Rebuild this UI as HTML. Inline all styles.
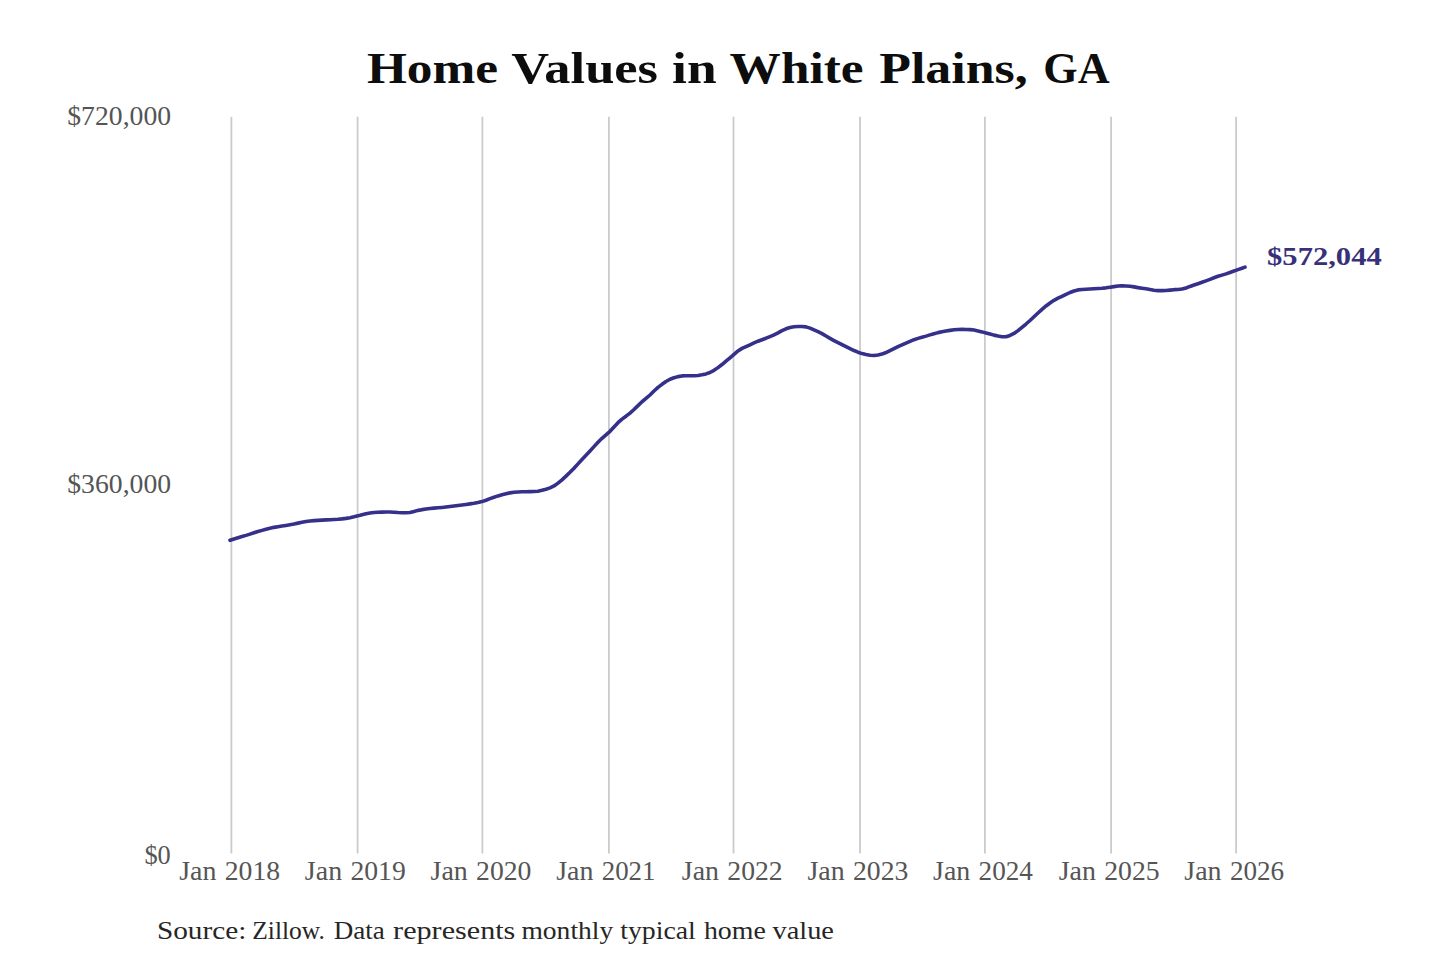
<!DOCTYPE html>
<html><head><meta charset="utf-8"><style>
html,body{margin:0;padding:0;background:#fff;width:1440px;height:960px;overflow:hidden}
svg{display:block}
text{font-family:"Liberation Serif",serif}
</style></head><body>
<svg width="1440" height="960" viewBox="0 0 1440 960">
<rect width="1440" height="960" fill="#fff"/>
<g stroke="#cbcbcb" stroke-width="1.8"><line x1="231.4" y1="116.7" x2="231.4" y2="853.5"/><line x1="357.6" y1="116.7" x2="357.6" y2="853.5"/><line x1="482.4" y1="116.7" x2="482.4" y2="853.5"/><line x1="608.9" y1="116.7" x2="608.9" y2="853.5"/><line x1="733.5" y1="116.7" x2="733.5" y2="853.5"/><line x1="860.05" y1="116.7" x2="860.05" y2="853.5"/><line x1="984.9" y1="116.7" x2="984.9" y2="853.5"/><line x1="1111.1" y1="116.7" x2="1111.1" y2="853.5"/><line x1="1236.1" y1="116.7" x2="1236.1" y2="853.5"/></g>
<path d="M230.0 540.30 L234.0 539.01 L238.0 537.76 L242.0 536.56 L246.0 535.38 L250.0 534.10 L254.0 532.75 L258.0 531.49 L262.0 530.36 L266.0 529.30 L270.0 528.27 L274.0 527.36 L278.0 526.66 L282.0 526.06 L286.0 525.41 L290.0 524.71 L294.0 523.97 L298.0 523.12 L302.0 522.23 L306.0 521.47 L310.0 520.98 L314.0 520.62 L318.0 520.34 L322.0 520.09 L326.0 519.88 L330.0 519.70 L334.0 519.49 L338.0 519.22 L342.0 518.86 L346.0 518.38 L350.0 517.71 L354.0 516.85 L358.0 515.87 L362.0 514.72 L366.0 513.69 L370.0 512.97 L374.0 512.49 L378.0 512.26 L382.0 512.12 L386.0 512.03 L390.0 512.03 L394.0 512.22 L398.0 512.50 L402.0 512.68 L406.0 512.70 L410.0 512.57 L414.0 511.52 L418.0 510.37 L422.0 509.65 L426.0 509.07 L430.0 508.57 L434.0 508.15 L438.0 507.80 L442.0 507.44 L446.0 507.01 L450.0 506.51 L454.0 505.97 L458.0 505.44 L462.0 504.94 L466.0 504.45 L470.0 503.90 L474.0 503.28 L478.0 502.56 L482.0 501.61 L486.0 500.23 L490.0 498.63 L494.0 497.20 L498.0 495.90 L502.0 494.74 L506.0 493.74 L510.0 492.85 L514.0 492.26 L518.0 491.99 L522.0 491.82 L526.0 491.69 L530.0 491.60 L534.0 491.50 L538.0 491.20 L542.0 490.32 L546.0 489.17 L550.0 487.88 L554.0 485.99 L558.0 483.15 L562.0 479.84 L566.0 476.15 L570.0 472.27 L574.0 468.19 L578.0 463.85 L582.0 459.49 L586.0 455.32 L590.0 451.06 L594.0 446.61 L598.0 442.34 L602.0 438.35 L606.0 434.79 L610.0 431.28 L614.0 426.94 L618.0 422.70 L622.0 419.11 L626.0 416.19 L630.0 413.11 L634.0 409.51 L638.0 405.62 L642.0 401.76 L646.0 398.46 L650.0 394.99 L654.0 390.98 L658.0 387.39 L662.0 384.30 L666.0 381.50 L670.0 379.29 L674.0 377.78 L678.0 376.64 L682.0 375.91 L686.0 375.80 L690.0 375.79 L694.0 375.72 L698.0 375.43 L702.0 374.82 L706.0 373.88 L710.0 372.49 L714.0 370.34 L718.0 367.63 L722.0 364.53 L726.0 361.19 L730.0 357.80 L734.0 354.37 L738.0 350.93 L742.0 348.38 L746.0 346.59 L750.0 344.79 L754.0 342.91 L758.0 341.20 L762.0 339.71 L766.0 338.20 L770.0 336.58 L774.0 334.86 L778.0 332.85 L782.0 330.60 L786.0 328.80 L790.0 327.49 L794.0 326.80 L798.0 326.50 L802.0 326.46 L806.0 326.86 L810.0 328.16 L814.0 329.93 L818.0 331.62 L822.0 333.60 L826.0 336.02 L830.0 338.39 L834.0 340.54 L838.0 342.61 L842.0 344.66 L846.0 346.67 L850.0 348.63 L854.0 350.53 L858.0 352.19 L862.0 353.58 L866.0 354.59 L870.0 355.30 L874.0 355.52 L878.0 355.02 L882.0 354.07 L886.0 352.53 L890.0 350.60 L894.0 348.58 L898.0 346.57 L902.0 344.78 L906.0 343.09 L910.0 341.35 L914.0 339.70 L918.0 338.36 L922.0 337.24 L926.0 336.12 L930.0 334.89 L934.0 333.67 L938.0 332.62 L942.0 331.73 L946.0 330.97 L950.0 330.35 L954.0 329.80 L958.0 329.46 L962.0 329.42 L966.0 329.48 L970.0 329.60 L974.0 330.05 L978.0 330.90 L982.0 331.88 L986.0 332.97 L990.0 334.06 L994.0 335.12 L998.0 336.03 L1002.0 336.76 L1006.0 336.71 L1010.0 335.42 L1014.0 333.43 L1018.0 330.63 L1022.0 327.39 L1026.0 324.03 L1030.0 320.47 L1034.0 316.73 L1038.0 312.96 L1042.0 309.34 L1046.0 305.95 L1050.0 302.96 L1054.0 300.33 L1058.0 298.17 L1062.0 296.35 L1066.0 294.47 L1070.0 292.50 L1074.0 290.95 L1078.0 289.89 L1082.0 289.48 L1086.0 289.26 L1090.0 289.00 L1094.0 288.71 L1098.0 288.46 L1102.0 288.23 L1106.0 287.84 L1110.0 287.24 L1114.0 286.61 L1118.0 286.02 L1122.0 285.83 L1126.0 285.95 L1130.0 286.24 L1134.0 286.89 L1138.0 287.62 L1142.0 288.24 L1146.0 288.84 L1150.0 289.54 L1154.0 290.30 L1158.0 290.59 L1162.0 290.60 L1166.0 290.53 L1170.0 290.11 L1174.0 289.67 L1178.0 289.45 L1182.0 289.08 L1186.0 287.95 L1190.0 286.43 L1194.0 285.06 L1198.0 283.70 L1202.0 282.30 L1206.0 280.85 L1210.0 279.32 L1214.0 277.72 L1218.0 276.30 L1222.0 275.10 L1226.0 273.85 L1230.0 272.44 L1234.0 271.00 L1238.0 269.59 L1242.0 268.20 L1245.0 267.17" fill="none" stroke="#35308a" stroke-width="3.6" stroke-linecap="round" stroke-linejoin="round"/>
<text x="366.93" y="82.8" font-size="44" font-weight="bold" fill="#0d0d0d" textLength="131.21" lengthAdjust="spacingAndGlyphs">Home</text>
<text x="511.31" y="82.8" font-size="44" font-weight="bold" fill="#0d0d0d" textLength="146.70" lengthAdjust="spacingAndGlyphs">Values</text>
<text x="672.09" y="82.8" font-size="44" font-weight="bold" fill="#0d0d0d" textLength="44.57" lengthAdjust="spacingAndGlyphs">in</text>
<text x="729.63" y="82.8" font-size="44" font-weight="bold" fill="#0d0d0d" textLength="133.90" lengthAdjust="spacingAndGlyphs">White</text>
<text x="879.22" y="82.8" font-size="44" font-weight="bold" fill="#0d0d0d" textLength="148.44" lengthAdjust="spacingAndGlyphs">Plains,</text>
<text x="1043.29" y="82.8" font-size="44" font-weight="bold" fill="#0d0d0d" textLength="66.31" lengthAdjust="spacingAndGlyphs">GA</text>
<text x="67.27" y="124.6" font-size="26.8" fill="#555555" textLength="103.88" lengthAdjust="spacingAndGlyphs">$720,000</text>
<text x="67.27" y="492.5" font-size="26.8" fill="#555555" textLength="103.88" lengthAdjust="spacingAndGlyphs">$360,000</text>
<text x="144.42" y="863.75" font-size="26.8" fill="#555555" textLength="26.37" lengthAdjust="spacingAndGlyphs">$0</text>
<text x="179.25" y="879.8" font-size="26.6" fill="#555555" textLength="37.23" lengthAdjust="spacingAndGlyphs">Jan</text>
<text x="224.76" y="879.8" font-size="26.6" fill="#555555" textLength="55.38" lengthAdjust="spacingAndGlyphs">2018</text>
<text x="304.89" y="879.8" font-size="26.6" fill="#555555" textLength="37.23" lengthAdjust="spacingAndGlyphs">Jan</text>
<text x="350.40" y="879.8" font-size="26.6" fill="#555555" textLength="55.38" lengthAdjust="spacingAndGlyphs">2019</text>
<text x="430.53" y="879.8" font-size="26.6" fill="#555555" textLength="37.23" lengthAdjust="spacingAndGlyphs">Jan</text>
<text x="476.04" y="879.8" font-size="26.6" fill="#555555" textLength="55.38" lengthAdjust="spacingAndGlyphs">2020</text>
<text x="556.17" y="879.8" font-size="26.6" fill="#555555" textLength="37.23" lengthAdjust="spacingAndGlyphs">Jan</text>
<text x="601.71" y="879.8" font-size="26.6" fill="#555555" textLength="53.76" lengthAdjust="spacingAndGlyphs">2021</text>
<text x="681.81" y="879.8" font-size="26.6" fill="#555555" textLength="37.23" lengthAdjust="spacingAndGlyphs">Jan</text>
<text x="727.32" y="879.8" font-size="26.6" fill="#555555" textLength="55.38" lengthAdjust="spacingAndGlyphs">2022</text>
<text x="807.45" y="879.8" font-size="26.6" fill="#555555" textLength="37.23" lengthAdjust="spacingAndGlyphs">Jan</text>
<text x="852.96" y="879.8" font-size="26.6" fill="#555555" textLength="55.38" lengthAdjust="spacingAndGlyphs">2023</text>
<text x="933.09" y="879.8" font-size="26.6" fill="#555555" textLength="37.23" lengthAdjust="spacingAndGlyphs">Jan</text>
<text x="978.62" y="879.8" font-size="26.6" fill="#555555" textLength="54.31" lengthAdjust="spacingAndGlyphs">2024</text>
<text x="1058.73" y="879.8" font-size="26.6" fill="#555555" textLength="37.23" lengthAdjust="spacingAndGlyphs">Jan</text>
<text x="1104.24" y="879.8" font-size="26.6" fill="#555555" textLength="55.38" lengthAdjust="spacingAndGlyphs">2025</text>
<text x="1184.37" y="879.8" font-size="26.6" fill="#555555" textLength="37.23" lengthAdjust="spacingAndGlyphs">Jan</text>
<text x="1229.90" y="879.8" font-size="26.6" fill="#555555" textLength="54.31" lengthAdjust="spacingAndGlyphs">2026</text>
<text x="1267.08" y="265.3" font-size="25" font-weight="bold" fill="#37317a" textLength="114.64" lengthAdjust="spacingAndGlyphs">$572,044</text>
<text x="156.95" y="938.6" font-size="26" fill="#262626" textLength="89.38" lengthAdjust="spacingAndGlyphs">Source:</text>
<text x="252.32" y="938.6" font-size="26" fill="#262626" textLength="72.60" lengthAdjust="spacingAndGlyphs">Zillow.</text>
<text x="333.66" y="938.6" font-size="26" fill="#262626" textLength="51.04" lengthAdjust="spacingAndGlyphs">Data</text>
<text x="393.14" y="938.6" font-size="26" fill="#262626" textLength="122.24" lengthAdjust="spacingAndGlyphs">represents</text>
<text x="521.44" y="938.6" font-size="26" fill="#262626" textLength="91.77" lengthAdjust="spacingAndGlyphs">monthly</text>
<text x="620.18" y="938.6" font-size="26" fill="#262626" textLength="75.64" lengthAdjust="spacingAndGlyphs">typical</text>
<text x="703.93" y="938.6" font-size="26" fill="#262626" textLength="61.89" lengthAdjust="spacingAndGlyphs">home</text>
<text x="772.50" y="938.6" font-size="26" fill="#262626" textLength="61.43" lengthAdjust="spacingAndGlyphs">value</text>
</svg>
</body></html>
